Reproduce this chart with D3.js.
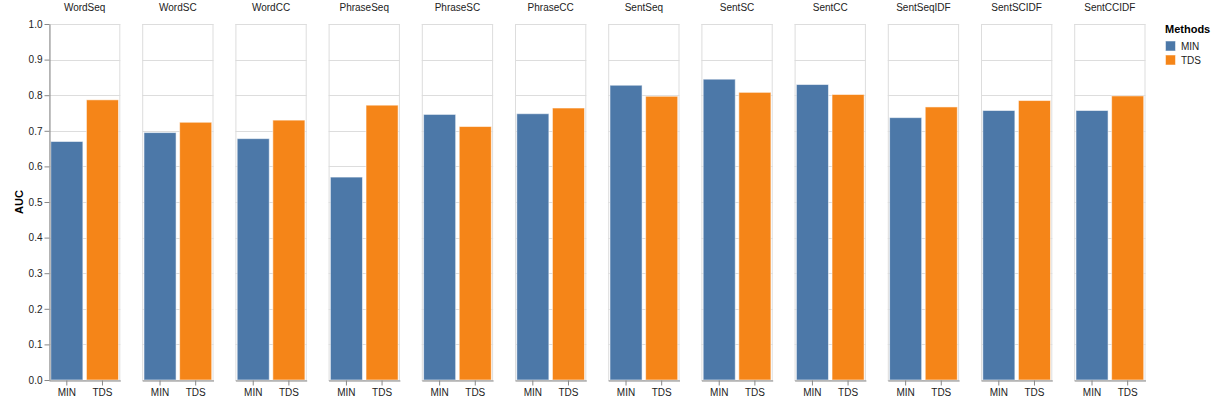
<!DOCTYPE html>
<html>
<head>
<meta charset="utf-8">
<script src="https://cdn.jsdelivr.net/npm/d3@7"></script>
<style>
  html, body { margin: 0; padding: 0; background: #fff; }
  svg { display: block; font-family: "Liberation Sans", Arial, Helvetica, sans-serif; }
</style>
</head>
<body>
<svg id="chart" width="1217" height="406"></svg>
<script>
const categories = ["WordSeq", "WordSC", "WordCC", "PhraseSeq", "PhraseSC", "PhraseCC",
                    "SentSeq", "SentSC", "SentCC", "SentSeqIDF", "SentSCIDF", "SentCCIDF"];
const methods = ["MIN", "TDS"];
const minValues = [0.670, 0.695, 0.678, 0.570, 0.746, 0.748, 0.828, 0.845, 0.830, 0.737, 0.757, 0.757];
const tdsValues = [0.787, 0.724, 0.730, 0.772, 0.712, 0.764, 0.797, 0.808, 0.802, 0.767, 0.785, 0.798];
const yTicks = [0, 0.1, 0.2, 0.3, 0.4, 0.5, 0.6, 0.7, 0.8, 0.9, 1.0];
const colors = ["#4c78a8", "#f58518"];
const yTitle = "AUC";
const legendTitle = "Methods";

const svg = d3.select("#chart");
const plotLeft = 49, plotTop = 24, panelH = 356, panelW = 71.3, stepX = 93.2;

const y = d3.scaleLinear().domain([0, 1]).range([plotTop + panelH, plotTop]);
const color = d3.scaleOrdinal().domain(methods).range(colors);
const facet = d3.scaleBand().domain(categories).range([plotLeft, plotLeft + stepX * categories.length]).paddingInner(0).paddingOuter(0);

const seriesValues = { MIN: minValues, TDS: tdsValues };

categories.forEach((cat, i) => {
  const x0 = facet(cat);
  const g = svg.append("g").attr("transform", `translate(${x0},0)`);
  const x = d3.scaleBand().domain(methods).range([0, panelW]).paddingInner(0.1).paddingOuter(0.05);

  // grid
  g.append("g").selectAll("line").data(yTicks).join("line")
    .attr("x1", 0).attr("x2", panelW)
    .attr("y1", d => Math.round(y(d)) + 0.5).attr("y2", d => Math.round(y(d)) + 0.5)
    .attr("stroke", "#ddd").attr("stroke-width", 1);

  // panel border
  g.append("rect").attr("x", 0.5).attr("y", plotTop + 0.5).attr("width", panelW - 1).attr("height", panelH)
    .attr("fill", "none").attr("stroke", "#ddd");

  // bars
  g.append("g").selectAll("rect").data(methods).join("rect")
    .attr("x", m => x(m)).attr("width", x.bandwidth())
    .attr("y", m => y(seriesValues[m][i]))
    .attr("height", m => y(0) - y(seriesValues[m][i]))
    .attr("fill", m => color(m))
    .attr("stroke", "#fff").attr("stroke-opacity", 0.55).attr("stroke-width", 1);

  // x axis
  const xa = g.append("g").attr("transform", `translate(0,${plotTop + panelH + 0.5})`)
    .call(d3.axisBottom(x).tickSize(5).tickPadding(3).tickSizeOuter(0));
  xa.select(".domain").attr("stroke", "#888");
  xa.selectAll(".tick line").attr("stroke", "#888");
  xa.selectAll("text").attr("font-size", 10).attr("fill", "#222").attr("font-family", null);

  // header
  svg.append("text").attr("x", x0 + panelW / 2).attr("y", 11)
    .attr("text-anchor", "middle").attr("font-size", 10).attr("fill", "#222").text(cat);

  if (i === 0) {
    const ya = svg.append("g").attr("transform", `translate(${x0 + 0.5},0)`)
      .call(d3.axisLeft(y).tickValues(yTicks).tickFormat(d3.format(".1f")).tickSize(5).tickPadding(2).tickSizeOuter(0));
    ya.select(".domain").attr("stroke", "#888");
    ya.selectAll(".tick line").attr("stroke", "#888");
    ya.selectAll("text").attr("font-size", 10).attr("fill", "#222").attr("font-family", null);
  }
});

// y title
svg.append("text")
  .attr("transform", `translate(23,${plotTop + panelH / 2}) rotate(-90)`)
  .attr("text-anchor", "middle").attr("font-size", 11).attr("font-weight", "bold").attr("fill", "#000")
  .text(yTitle);

// legend
const lg = svg.append("g").attr("transform", "translate(1165,0)");
lg.append("text").attr("x", 0).attr("y", 33).attr("font-size", 11).attr("font-weight", "bold").attr("fill", "#000").text(legendTitle);
methods.forEach((m, k) => {
  const cy = 46 + k * 14;
  lg.append("rect").attr("x", 0.5).attr("y", cy - 5).attr("width", 10).attr("height", 10)
    .attr("fill", color(m)).attr("stroke", "#fff").attr("stroke-opacity", 0.5);
  lg.append("text").attr("x", 16).attr("y", cy).attr("dy", "0.35em").attr("font-size", 10).attr("fill", "#222").text(m);
});
</script>
</body>
</html>
